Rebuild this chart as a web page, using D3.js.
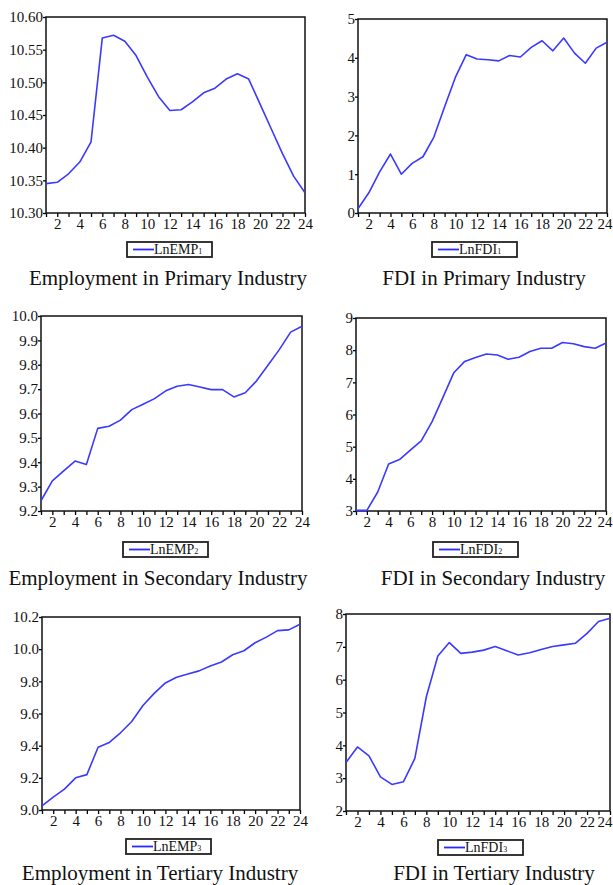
<!DOCTYPE html>
<html>
<head>
<meta charset="utf-8">
<script src="https://cdn.jsdelivr.net/npm/d3@7"></script>
<style>
  body { margin: 0; background: #fff; }
  svg { display: block; font-family: 'Liberation Serif', 'Times New Roman', serif; }
</style>
</head>
<body>
<div id="chart"></div>
<script>
const obs = d3.range(1, 25)

const lnEMP1 = [10.345, 10.347, 10.360, 10.378, 10.409, 10.568, 10.572, 10.563, 10.541, 10.508,
  10.478, 10.457, 10.458, 10.470, 10.484, 10.491, 10.505, 10.513, 10.505, 10.467,
  10.429, 10.391, 10.356, 10.331]
const lnFDI1 = [0.11, 0.52, 1.06, 1.52, 1.00, 1.28, 1.45, 1.95, 2.74, 3.50,
  4.08, 3.97, 3.95, 3.92, 4.06, 4.02, 4.27, 4.44, 4.18, 4.51,
  4.12, 3.86, 4.25, 4.40]
const lnEMP2 = [9.242, 9.324, 9.365, 9.405, 9.391, 9.539, 9.548, 9.573, 9.616, 9.638,
  9.661, 9.693, 9.712, 9.719, 9.709, 9.698, 9.698, 9.668, 9.685, 9.734,
  9.798, 9.862, 9.934, 9.958]
const lnFDI2 = [3.02, 3.02, 3.59, 4.46, 4.60, 4.89, 5.18, 5.78, 6.53, 7.30,
  7.65, 7.77, 7.88, 7.85, 7.72, 7.78, 7.96, 8.06, 8.06, 8.24,
  8.20, 8.11, 8.06, 8.22]
const lnEMP3 = [9.025, 9.08, 9.13, 9.20, 9.22, 9.39, 9.42, 9.48, 9.55, 9.65,
  9.725, 9.79, 9.825, 9.845, 9.865, 9.895, 9.92, 9.965, 9.99, 10.04,
  10.075, 10.115, 10.12, 10.155]
const lnFDI3 = [3.48, 3.95, 3.68, 3.04, 2.81, 2.89, 3.60, 5.48, 6.72, 7.13,
  6.80, 6.84, 6.90, 7.01, 6.88, 6.75, 6.82, 6.92, 7.01, 7.06,
  7.11, 7.41, 7.77, 7.87]

const panels = [
  { values: lnEMP1, name: 'LnEMP', sub: '1', title: 'Employment in Primary Industry',
    yDomain: [10.30, 10.60], yTicks: [10.30, 10.35, 10.40, 10.45, 10.50, 10.55, 10.60], fmt: '.2f',
    box: [46, 17, 305, 213], legend: [127, 242], titleX: 168, titleY: 285 },
  { values: lnFDI1, name: 'LnFDI', sub: '1', title: 'FDI in Primary Industry',
    yDomain: [0, 5], yTicks: [0, 1, 2, 3, 4, 5], fmt: 'd',
    box: [358, 19, 607, 213], legend: [432, 242], titleX: 484, titleY: 285 },
  { values: lnEMP2, name: 'LnEMP', sub: '2', title: 'Employment in Secondary Industry',
    yDomain: [9.2, 10.0], yTicks: [9.2, 9.3, 9.4, 9.5, 9.6, 9.7, 9.8, 9.9, 10.0], fmt: '.1f',
    box: [41, 316, 302, 511], legend: [123, 542], titleX: 158, titleY: 585 },
  { values: lnFDI2, name: 'LnFDI', sub: '2', title: 'FDI in Secondary Industry',
    yDomain: [3, 9], yTicks: [3, 4, 5, 6, 7, 8, 9], fmt: 'd',
    box: [356, 318, 606, 511], legend: [433, 542], titleX: 493, titleY: 585 },
  { values: lnEMP3, name: 'LnEMP', sub: '3', title: 'Employment in Tertiary Industry',
    yDomain: [9.0, 10.2], yTicks: [9.0, 9.2, 9.4, 9.6, 9.8, 10.0, 10.2], fmt: '.1f',
    box: [42, 617, 300, 810], legend: [126, 839], titleX: 160, titleY: 880 },
  { values: lnFDI3, name: 'LnFDI', sub: '3', title: 'FDI in Tertiary Industry',
    yDomain: [2, 8], yTicks: [2, 3, 4, 5, 6, 7, 8], fmt: 'd',
    box: [346, 614, 610, 811], legend: [438, 840], titleX: 494, titleY: 880 },
]

const W = 613

const svg = d3.select('#chart').append('svg')
  .attr('width', W)
  .attr('height', 885)

panels.forEach(p => {
  const [x0, y0, x1, y1] = p.box

  const x = d3.scaleLinear()
    .domain([1, 24])
    .range([x0, x1])

  const y = d3.scaleLinear()
    .domain(p.yDomain)
    .range([y1, y0])

  const g = svg.append('g')

  // x axis: tick at each obs, label on even ones
  const xAxis = d3.axisBottom(x)
    .tickValues(obs)
    .tickSize(4)
    .tickSizeOuter(0)
    .tickFormat(d => d % 2 === 0 ? d : '')
  const xg = g.append('g')
    .attr('transform', `translate(0, ${y1})`)
    .call(xAxis)
  xg.select('.domain').remove()
  xg.selectAll('.tick line').attr('stroke', '#000').attr('stroke-width', 1.3)
  xg.selectAll('.tick text')
    .attr('font-family', 'Liberation Serif')
    .attr('font-size', '15px')
    .attr('fill', '#111')
    .attr('y', 5)
    .each(function (d) {
      // keep the last label inside the page
      const over = x(d) + this.getComputedTextLength() / 2 - (W - 1)
      if (over > 0) d3.select(this).attr('dx', -over)
    })

  const yAxis = d3.axisLeft(y)
    .tickValues(p.yTicks)
    .tickSize(3)
    .tickSizeOuter(0)
    .tickFormat(d3.format(p.fmt))
  const yg = g.append('g')
    .attr('transform', `translate(${x0}, 0)`)
    .call(yAxis)
  yg.select('.domain').remove()
  yg.selectAll('.tick line').attr('stroke', '#000').attr('stroke-width', 1.3)
  yg.selectAll('.tick text')
    .attr('font-family', 'Liberation Serif')
    .attr('font-size', '15px')
    .attr('fill', '#111')
    .attr('x', -3)

  // frame
  g.append('rect')
    .attr('x', x0)
    .attr('y', y0)
    .attr('width', x1 - x0)
    .attr('height', y1 - y0)
    .attr('fill', 'none')
    .attr('stroke', '#111')
    .attr('stroke-width', 1.5)

  const line = d3.line()
    .x((d, i) => x(obs[i]))
    .y(d => y(d))

  g.append('path')
    .datum(p.values)
    .attr('d', line)
    .attr('fill', 'none')
    .attr('stroke', '#3a3aff')
    .attr('stroke-width', 1.6)
    .attr('stroke-linejoin', 'round')

  // legend
  const [lx, ly] = p.legend
  const lg = svg.append('g')
    .attr('transform', `translate(${lx}, ${ly})`)
  lg.append('rect')
    .attr('width', 85)
    .attr('height', 15)
    .attr('fill', '#fff')
    .attr('stroke', '#222')
    .attr('stroke-width', 1.8)
  lg.append('line')
    .attr('x1', 6)
    .attr('x2', 27)
    .attr('y1', 7.5)
    .attr('y2', 7.5)
    .attr('stroke', '#2a2aff')
    .attr('stroke-width', 1.8)
  const lt = lg.append('text')
    .attr('x', 27)
    .attr('y', 12)
    .attr('font-size', '14px')
    .attr('fill', '#111')
  lt.append('tspan').text(p.name)
  lt.append('tspan')
    .attr('font-size', '8px')
    .text(p.sub)

  // caption
  svg.append('text')
    .attr('x', p.titleX)
    .attr('y', p.titleY)
    .attr('text-anchor', 'middle')
    .attr('font-size', '21px')
    .attr('fill', '#111')
    .text(p.title)
})
</script>
</body>
</html>
